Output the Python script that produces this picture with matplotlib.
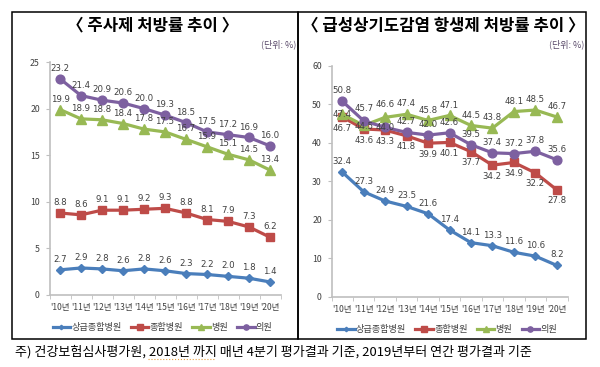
import matplotlib
matplotlib.use("Agg")
import matplotlib.pyplot as plt
from matplotlib.patches import Rectangle
from matplotlib.lines import Line2D

plt.rcParams['font.family'] = ['Noto Sans CJK KR', 'DejaVu Sans']

years = ["'10년", "'11년", "'12년", "'13년", "'14년", "'15년", "'16년", "'17년", "'18년", "'19년", "'20년"]
names = ['상급종합병원', '종합병원', '병원', '의원']

# 주사제 처방률
inj_tertiary = [2.7, 2.9, 2.8, 2.6, 2.8, 2.6, 2.3, 2.2, 2.0, 1.8, 1.4]
inj_general = [8.8, 8.6, 9.1, 9.1, 9.2, 9.3, 8.8, 8.1, 7.9, 7.3, 6.2]
inj_hospital = [19.9, 18.9, 18.8, 18.4, 17.8, 17.5, 16.7, 15.9, 15.1, 14.5, 13.4]
inj_clinic = [23.2, 21.4, 20.9, 20.6, 20.0, 19.3, 18.5, 17.5, 17.2, 16.9, 16.0]

# 급성상기도감염 항생제 처방률
abx_tertiary = [32.4, 27.3, 24.9, 23.5, 21.6, 17.4, 14.1, 13.3, 11.6, 10.6, 8.2]
abx_general = [46.7, 43.6, 43.3, 41.8, 39.9, 40.1, 37.7, 34.2, 34.9, 32.2, 27.8]
abx_hospital = [47.4, 44.5, 46.6, 47.4, 45.8, 47.1, 44.5, 43.8, 48.1, 48.5, 46.7]
abx_clinic = [50.8, 45.7, 44.0, 42.7, 42.0, 42.6, 39.5, 37.4, 37.2, 37.8, 35.6]

colors = ['#4A7EBB', '#BE4B48', '#98B954', '#7D60A0']
markers = ['D', 's', '^', 'o']
msizes = [3.8, 6.3, 6.5, 6.3]

W, H = 600, 367
fig = plt.figure(figsize=(6, 3.67), dpi=100)


def fx(px):
    return px / W


def fy(py):
    return 1 - py / H


def panel(left, right, top0, bottom0, ymax, step, series, offsets):
    ax = fig.add_axes([fx(left), fy(bottom0), fx(right - left), (bottom0 - top0) / H])
    x = list(range(len(years)))
    for i, vals in enumerate(series):
        ax.plot(x, vals, color=colors[i], lw=2.3, marker=markers[i], ms=msizes[i],
                label=names[i], zorder=3 + i)
        for xi, v in zip(x, vals):
            off = offsets.get((i, xi), offsets.get(i, 7.5))
            ax.annotate(f'{v:.1f}', (xi, v), xytext=(0, off), textcoords='offset points',
                        ha='center', va='center', fontsize=6.2, color='#404040',
                        family=['DejaVu Sans'], zorder=10)
    ax.set_xlim(-0.5, len(years) - 0.5)
    ax.set_ylim(0, ymax)
    ax.set_yticks(range(0, ymax + 1, step))
    ax.set_xticks(x)
    ax.set_xticklabels(years)
    ax.set_xticks([k - 0.5 for k in range(len(years) + 1)], minor=True)
    for s in ['top', 'right']:
        ax.spines[s].set_visible(False)
    for s in ['left', 'bottom']:
        ax.spines[s].set_color('#BFBFBF')
        ax.spines[s].set_linewidth(1.2)
    ax.tick_params(axis='y', labelsize=6.3, colors='#BFBFBF', labelcolor='#404040', length=3, pad=4)
    ax.tick_params(axis='x', which='major', length=0, labelsize=6.1, labelcolor='#404040', pad=6)
    ax.tick_params(axis='x', which='minor', length=3, color='#BFBFBF')
    ax.patch.set_alpha(0)
    leg = ax.legend(loc='upper center', bbox_to_anchor=(0.49, -0.085), ncol=4, frameon=False,
                    fontsize=6.6, handlelength=1.9, columnspacing=1.0, handletextpad=0.15,
                    markerscale=0.6)
    for t in leg.get_texts():
        t.set_color('#404040')
    return ax


panel(49.5, 280.5, 62, 295, 25, 5, [inj_tertiary, inj_general, inj_hospital, inj_clinic], {})
panel(331.5, 567.5, 65.7, 297, 60, 10, [abx_tertiary, abx_general, abx_hospital, abx_clinic],
      {1: -8, (3, 1): 9, (2, 1): -1, (3, 2): 0, (2, 2): 9, (2, 0): 0})

# frames
for l, r in [(12, 298), (298, 586)]:
    fig.patches.append(Rectangle((fx(l), fy(339)), fx(r - l), (339 - 11.5) / H,
                                 transform=fig.transFigure, fill=False, ec='black', lw=1.1))

fig.text(fx(153), fy(25), '〈 주사제 처방률 추이 〉', ha='center', va='center',
         fontsize=12, fontweight='bold')
fig.text(fx(443), fy(25), '〈 급성상기도감염 항생제 처방률 추이 〉', ha='center', va='center',
         fontsize=12, fontweight='bold')
fig.text(fx(296), fy(44), '(단위: %)', ha='right', va='center', fontsize=6.5, color='#5a4a6a')
fig.text(fx(584), fy(44), '(단위: %)', ha='right', va='center', fontsize=6.5, color='#5a4a6a')

fig.text(fx(15), fy(352), '주) 건강보험심사평가원, 2018년 까지 매년 4분기 평가결과 기준, 2019년부터 연간 평가결과 기준',
         ha='left', va='center', fontsize=9.4)
# spell-check squiggle under "2018년 까지"
fig.add_artist(Line2D([fx(148), fx(214)], [fy(359), fy(359)], color='#E8A040', lw=0.8, ls=':'))

fig.savefig('out.png', dpi=100)
